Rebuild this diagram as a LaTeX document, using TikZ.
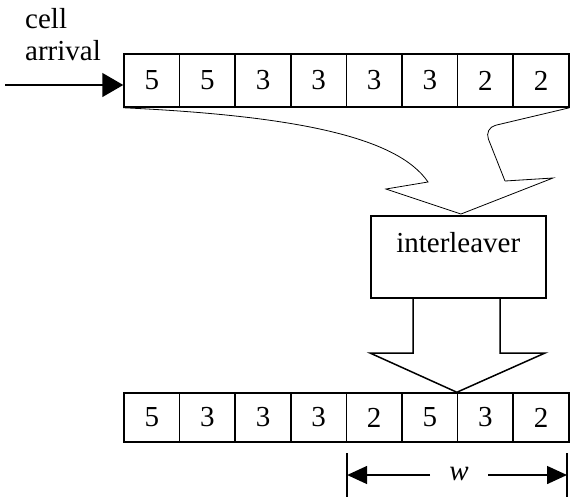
\documentclass[tikz,border=0pt]{standalone}
\usepackage{fontspec}
\setmainfont{Liberation Serif}
\usetikzlibrary{arrows.meta}
\begin{document}
\begin{tikzpicture}[x=1pt,y=-1pt,
  cellbox/.style={draw, line width=1.5pt, minimum width=55.6pt, minimum height=#1, inner sep=0pt, font=\fontsize{29}{32}\selectfont},
  lbl/.style={inner sep=0pt, font=\fontsize{29}{32}\selectfont},
  thinline/.style={line width=0.8pt},
  thickline/.style={line width=1.5pt},
  bighead/.style={-{Triangle[length=21pt,width=24pt]}},
  dimhead/.style={-{Triangle[length=20pt,width=18pt]}}]
\useasboundingbox (0,0) rectangle (572,499);

% top row
\foreach \d [count=\i] in {5,5,3,3,3,3,2,2}
  \node[cellbox=53pt] (t\i) at ({124+55.6*(\i-0.5)},80.5) {\d};
% bottom row
\foreach \d [count=\i] in {5,3,3,3,2,5,3,2}
  \node[cellbox=49pt] (b\i) at ({124+55.6*(\i-0.5)},417.5) {\d};

% cell arrival
\node[lbl, anchor=base west] (cell) at (25,28) {cell};
\node[lbl, anchor=base west] (arr) at (25,60) {arrival};
\coordinate (in) at (5,85);
\draw[thickline, bighead] (in) -- (in -| t1.west);

% interleaver
\node[draw, thickline, minimum width=175pt, minimum height=82pt, anchor=north west, inner sep=0pt] (il) at (370,215) {};
\node[lbl, anchor=base] (iltext) at (il.north |- 0,252) {interleaver};

% curved block arrow into the interleaver
\coordinate (ibl) at (428,182);
\coordinate (obl) at (386,189);
\coordinate (tip) at (461,214);
\coordinate (obr) at (553,178);
\coordinate (ibr) at (505,181);
\coordinate (crn) at (484,128);
\draw[thinline] (t1.south west) .. controls (300,116) and (398,138) .. (ibl) -- (obl) -- (tip) -- (obr) -- (ibr);
\draw[thinline, rounded corners=12pt] (ibr) -- (crn) -- (t8.south east);

% straight block arrow out of the interleaver
\draw[thickline] (413,297) -- (413,353) -- (370,353) -- (b7.north west) -- (545,353) -- (500,353) -- (500,297);

% window w
\coordinate (wl) at (b4.south east |- 0,453);
\coordinate (wr) at (567,453);
\draw[thickline] (wl) -- ++(0,44);
\draw[thickline] (wr) -- ++(0,44);
\node[lbl, font=\fontsize{29}{32}\selectfont\itshape] (w) at (459,474) {w};
\draw[thickline, dimhead] (430,475) -- (wl |- 0,475);
\draw[thickline, dimhead] (488,475) -- (wr |- 0,475);
\end{tikzpicture}
\end{document}
